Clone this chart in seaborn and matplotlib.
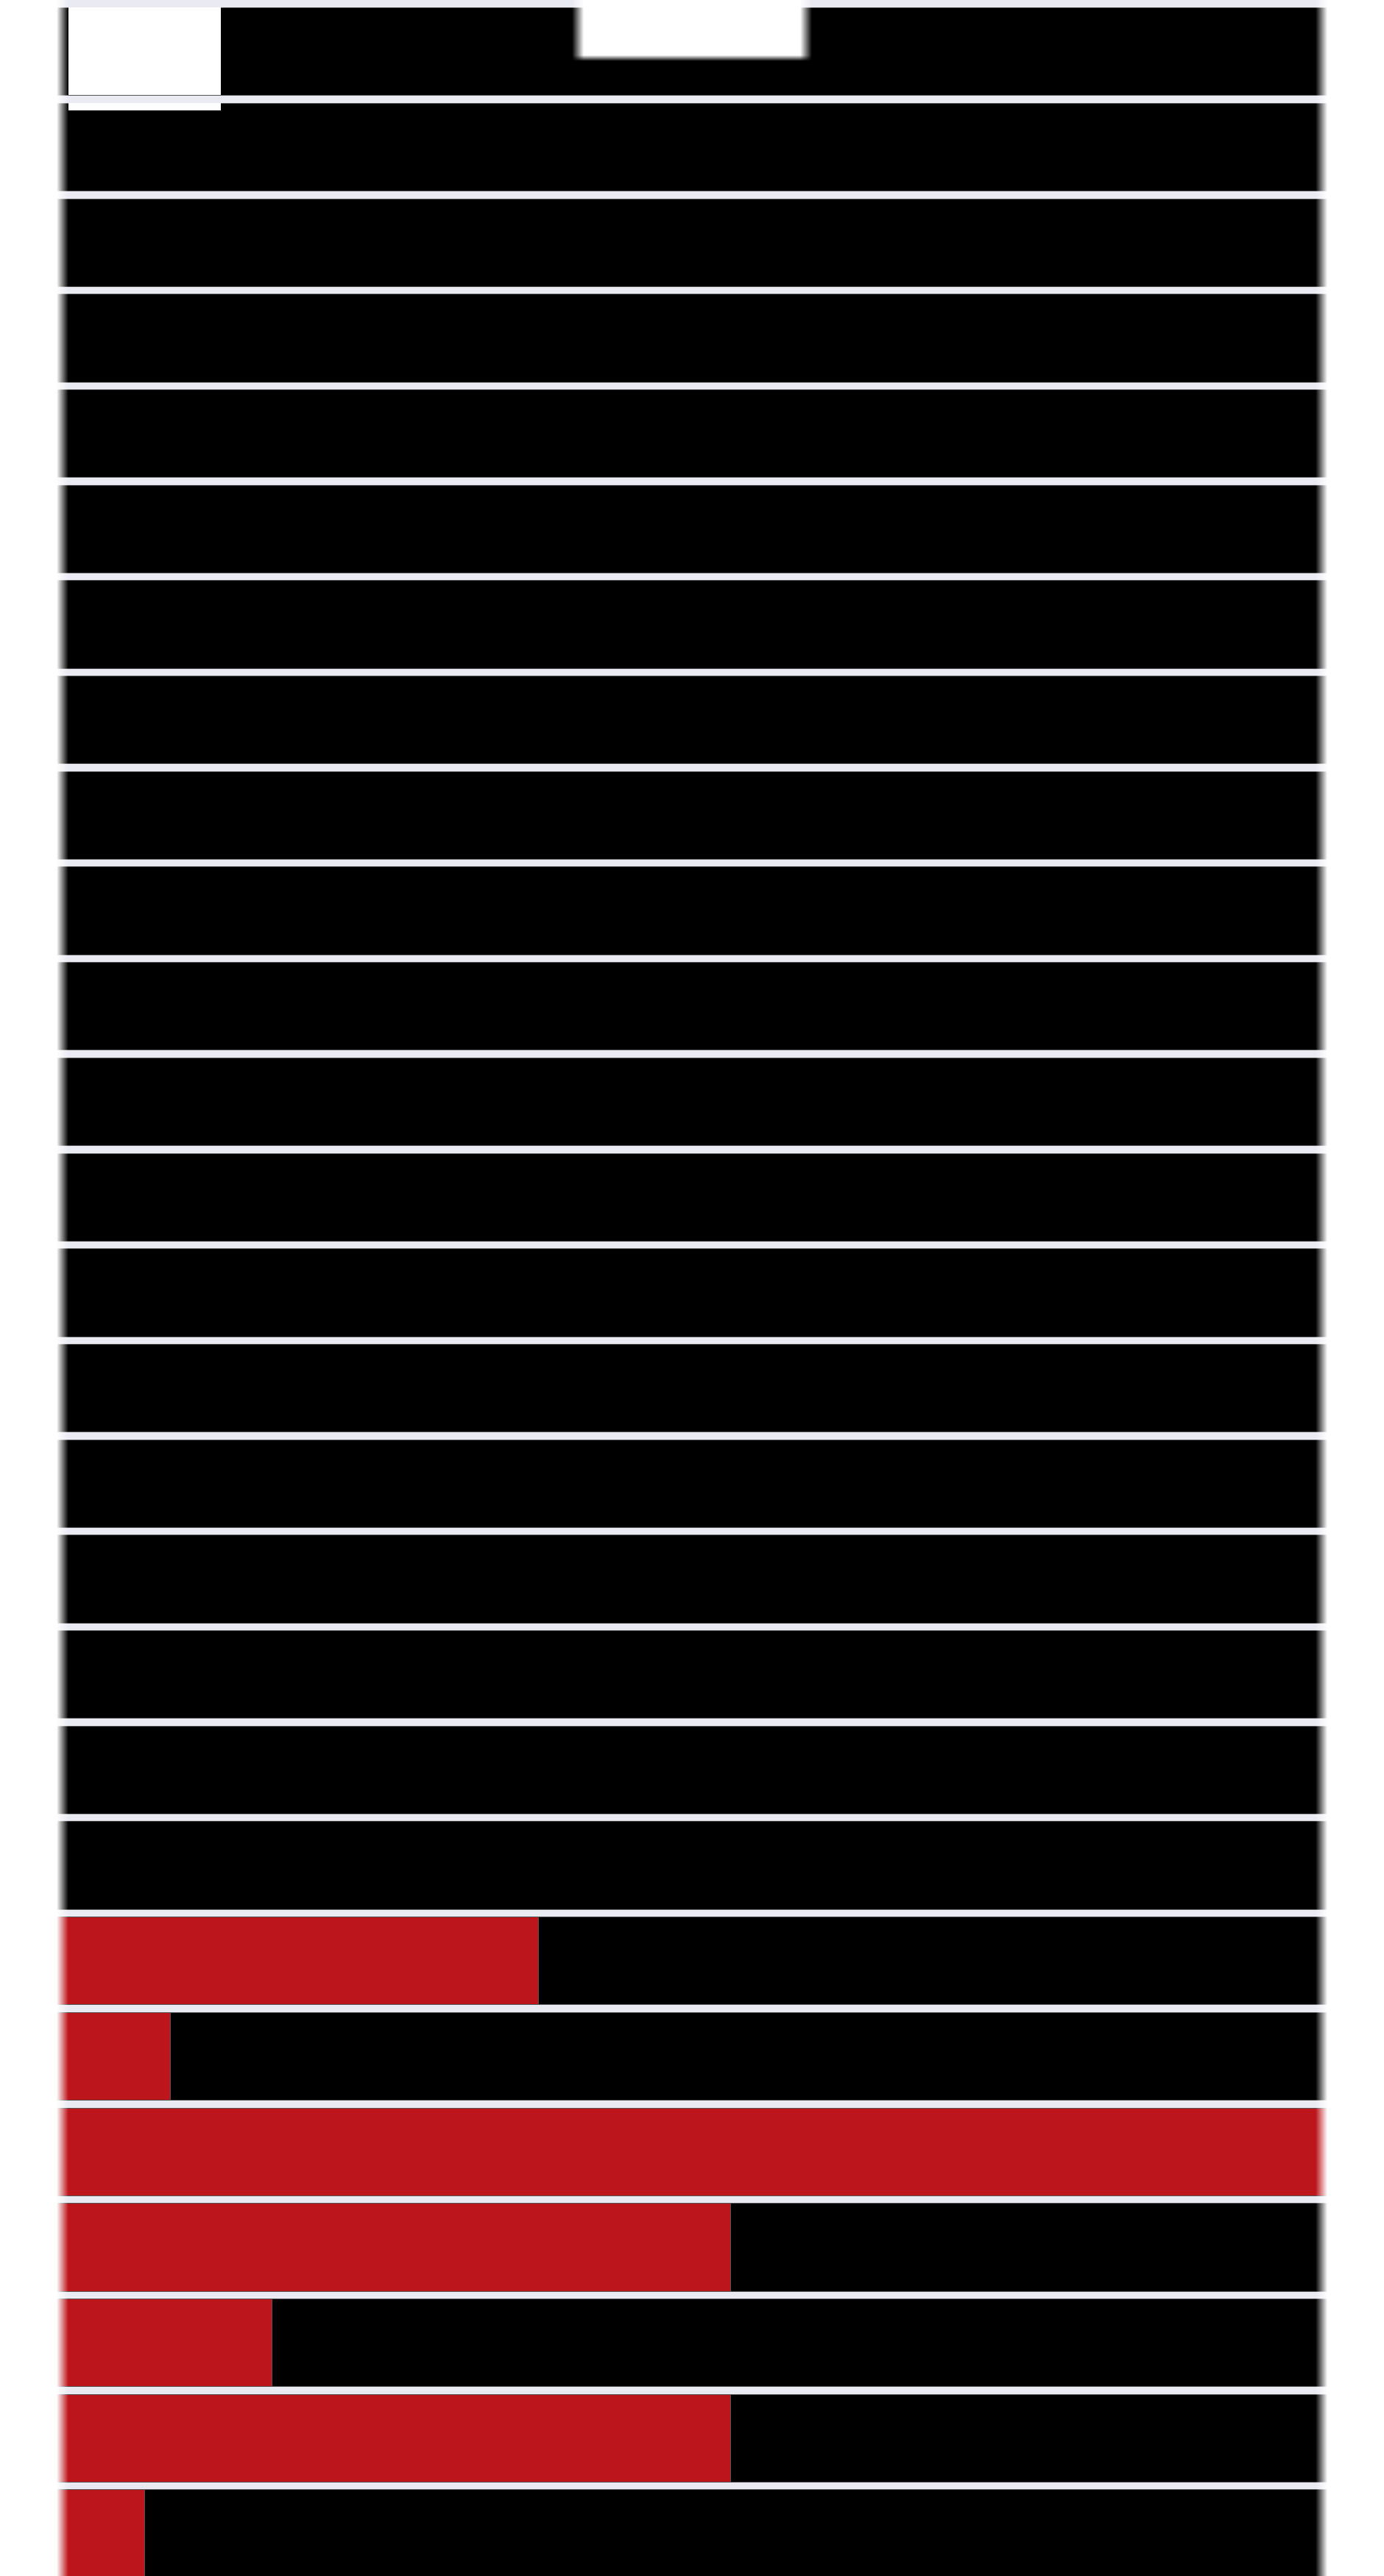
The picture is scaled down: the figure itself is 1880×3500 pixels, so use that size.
import numpy as np
import pandas as pd
import seaborn as sns
import matplotlib.pyplot as plt
from matplotlib.patches import Rectangle

# rows from top to bottom (no labels are shown on the chart)
rows = ["r01", "r02", "r03", "r04", "r05", "r06", "r07", "r08", "r09",
        "r10", "r11", "r12", "r13", "r14", "r15", "r16", "r17", "r18",
        "r19", "r20", "r21", "r22", "r23", "r24", "r25", "r26", "r27"]

# every bar is a full 100% track (black)
total_share = [1.0] * 27

# red share for each row
red_share = [0, 0, 0, 0, 0, 0, 0, 0, 0,
             0, 0, 0, 0, 0, 0, 0, 0, 0,
             0, 0, 0.379, 0.089, 1.0, 0.530, 0.169, 0.530, 0.069]

df = pd.DataFrame({"row": rows, "total": total_share, "red": red_share})
red_df = df[df["red"] > 0]

sns.set_theme(style="darkgrid")

W, H = 1880, 3500
fig = plt.figure(figsize=(W / 100, H / 100), dpi=100)
ax = fig.add_axes([77 / W, 0, (1803 - 77) / W, 1])

# black background track, then the red share on top
sns.barplot(data=df, x="total", y="row", order=rows, color="black",
            saturation=1, width=0.92, edgecolor="#555555", linewidth=0.7, ax=ax)
sns.barplot(data=red_df, x="red", y="row", order=rows, color="#BC151B",
            saturation=1, width=0.92, edgecolor="#555555", linewidth=0.7, ax=ax)

ax.set_xlim(0, 1)
ax.set_ylim(26.447, -0.538)
ax.grid(False)
ax.set_xlabel("")
ax.set_ylabel("")
ax.set_xticks([])
ax.set_yticks([])
for s in ax.spines.values():
    s.set_visible(False)

# white box in the top-left corner (split by the lavender gap)
fig.add_artist(Rectangle((93 / W, 1 - 129 / H), (300 - 93) / W, 119 / H,
                         transform=fig.transFigure, facecolor="white",
                         edgecolor="none", zorder=5))
fig.add_artist(Rectangle((93 / W, 1 - 150 / H), (300 - 93) / W, 10 / H,
                         transform=fig.transFigure, facecolor="white",
                         edgecolor="none", zorder=5))

# soft white fades on the left/right edges and the top-centre box
x = np.arange(W) + 0.5
y = np.arange(H) + 0.5
edge = np.maximum(np.clip((93 - x) / 16, 0, 1), np.clip((x - 1787) / 16, 0, 1))
box_x = np.clip((x - 777) / 16, 0, 1) * np.clip((1103 - x) / 16, 0, 1)
box_y = np.clip((83 - y) / 8, 0, 1)
alpha = np.maximum(edge[None, :], box_y[:, None] * box_x[None, :])
rgba = np.full((H, W, 4), 255, dtype=np.uint8)
rgba[..., 3] = (alpha * 255).astype(np.uint8)

ov = fig.add_axes([0, 0, 1, 1], zorder=10)
ov.imshow(rgba, aspect="auto", interpolation="nearest")
ov.axis("off")

fig.savefig("out.png", dpi=100)
